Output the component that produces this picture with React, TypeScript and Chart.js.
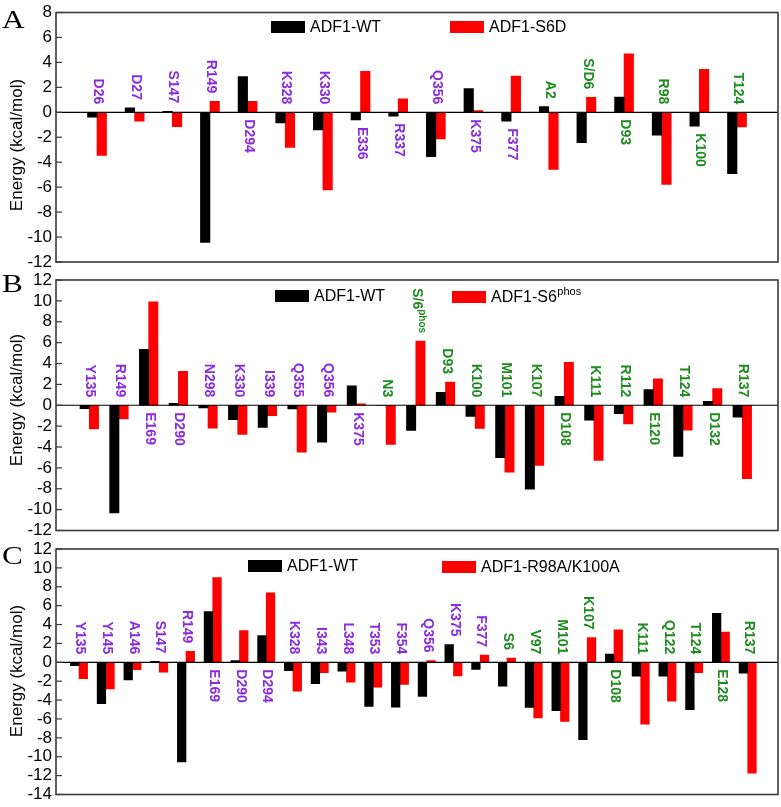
import React, { useEffect, useRef } from "react";
import { Chart, registerables } from "chart.js";
Chart.register(...registerables);

// ---------------- DATA ----------------
// Panel A
const catsA = ["D26", "D27", "S147", "R149", "D294", "K328", "K330", "E336", "R337", "Q356", "K375", "F377", "A2", "S/D6", "D93", "R98", "K100", "T124"];
const wtA = [-0.40, 0.35, 0.08, -10.43, 2.86, -0.86, -1.42, -0.61, -0.32, -3.56, 1.90, -0.72, 0.45, -2.43, 1.23, -1.84, -1.12, -4.92];
const mutA = [-3.45, -0.72, -1.15, 0.88, 0.88, -2.81, -6.23, 3.29, 1.07, -2.14, 0.13, 2.91, -4.57, 1.20, 4.68, -5.78, 3.45, -1.18];
const sideA = ["u", "u", "u", "u", "d", "u", "u", "d", "d", "u", "d", "d", "u", "u", "d", "u", "d", "u"];
const groupA = ["p", "p", "p", "p", "p", "p", "p", "p", "p", "p", "p", "p", "g", "g", "g", "g", "g", "g"];
const legendA = ["ADF1-WT", "ADF1-S6D"];
const yMinA = -12, yMaxA = 8;

// Panel B
const catsB = ["Y135", "R149", "E169", "D290", "N298", "K330", "I339", "Q355", "Q356", "K375", "N3", "S/6^phos", "D93", "K100", "M101", "K107", "D108", "K111", "R112", "E120", "T124", "D132", "R137"];
const wtB = [-0.32, -10.32, 5.35, 0.19, -0.25, -1.37, -2.13, -0.35, -3.54, 1.85, 0.0, -2.42, 1.24, -1.08, -5.03, -8.03, 0.86, -1.43, -0.80, 1.50, -4.90, 0.38, -1.15];
const mutB = [-2.26, -1.31, 9.90, 3.25, -2.20, -2.80, -0.99, -4.49, -0.67, 0.13, -3.76, 6.15, 2.23, -2.23, -6.40, -5.76, 4.11, -5.29, -1.78, 2.52, -2.39, 1.59, -7.04];
const sideB = ["u", "u", "d", "d", "u", "u", "u", "u", "u", "d", "u", "u", "u", "u", "u", "u", "d", "u", "u", "d", "u", "d", "u"];
const groupB = ["p", "p", "p", "p", "p", "p", "p", "p", "p", "p", "g", "g", "g", "g", "g", "g", "g", "g", "g", "g", "g", "g", "g"];
const legendB = ["ADF1-WT", "ADF1-S6^phos"];
const yMinB = -12, yMaxB = 12;

// Panel C
const catsC = ["Y135", "Y145", "A146", "S147", "R149", "E169", "D290", "D294", "K328", "I343", "L348", "T353", "F354", "Q356", "K375", "F377", "S6", "V97", "M101", "K107", "D108", "K111", "Q122", "T124", "E128", "R137"];
const wtC = [-0.35, -4.39, -1.86, 0.10, -10.56, 5.37, 0.18, 2.84, -0.88, -2.25, -0.95, -4.67, -4.74, -3.61, 1.89, -0.74, -2.53, -4.77, -5.12, -8.18, 0.88, -1.47, -1.47, -5.02, 5.19, -1.16];
const mutC = [-1.72, -2.81, -0.77, -1.05, 1.16, 8.98, 3.37, 7.37, -3.05, -1.09, -2.11, -2.63, -2.35, 0.18, -1.44, 0.77, 0.46, -5.89, -6.25, 2.63, 3.44, -6.56, -4.11, -1.09, 3.19, -11.75];
const sideC = ["u", "u", "u", "u", "u", "d", "d", "d", "u", "u", "u", "u", "u", "u", "u", "u", "u", "u", "u", "u", "d", "u", "u", "u", "d", "u"];
const groupC = ["p", "p", "p", "p", "p", "p", "p", "p", "p", "p", "p", "p", "p", "p", "p", "p", "g", "g", "g", "g", "g", "g", "g", "g", "g", "g"];
const legendC = ["ADF1-WT", "ADF1-R98A/K100A"];
const yMinC = -14, yMaxC = 12;

const yStep = 2;
const yTitle = "Energy (kcal/mol)";

// ---------------- STYLE ----------------
const PURPLE = "#8a2be2";
const GREEN = "#1f8c1f";
const FONT = "'Liberation Sans', Arial, Helvetica, sans-serif";

type Cfg = {
  letter: string;
  cats: string[];
  wt: number[];
  mut: number[];
  side: string[];
  group: string[];
  legend: string[];
  yMin: number;
  yMax: number;
  xMin: number;
  xMax: number;
  barW: number;
  top: number;
  bottom: number;
  letterY: number;
  titleY: number;
  leg: { x: number; y: number }[];
};

const panels: Cfg[] = [
  {
    letter: "A", cats: catsA, wt: wtA, mut: mutA, side: sideA, group: groupA, legend: legendA,
    yMin: yMinA, yMax: yMaxA, xMin: -0.089, xMax: 19.089, barW: 9.5, top: 12, bottom: 262,
    letterY: 28, titleY: 145, leg: [{ x: 271, y: 21 }, { x: 450, y: 21 }],
  },
  {
    letter: "B", cats: catsB, wt: wtB, mut: mutB, side: sideB, group: groupB, legend: legendB,
    yMin: yMinB, yMax: yMaxB, xMin: -0.122, xMax: 24.203, barW: 9.3, top: 280, bottom: 530.5,
    letterY: 292, titleY: 400, leg: [{ x: 275, y: 290 }, { x: 452, y: 291 }],
  },
  {
    letter: "C", cats: catsC, wt: wtC, mut: mutC, side: sideC, group: groupC, legend: legendC,
    yMin: yMinC, yMax: yMaxC, xMin: 0.14, xMax: 27.133, barW: 8.6, top: 549, bottom: 798,
    letterY: 564, titleY: 671, leg: [{ x: 248, y: 560 }, { x: 442, y: 561 }],
  },
];

function splitRich(t: string) {
  const i = t.indexOf("^");
  return i < 0 ? [t, ""] : [t.slice(0, i), t.slice(i + 1)];
}

function makePlugin(cfg: Cfg) {
  return {
    id: "decor" + cfg.letter,
    afterDatasetsDraw(chart: any) {
      const { ctx, chartArea: a, scales } = chart;
      const xs = scales.x, ys = scales.y;
      ctx.save();
      // zero line
      const y0 = ys.getPixelForValue(0);
      ctx.strokeStyle = "#000";
      ctx.lineWidth = 1.2;
      ctx.beginPath();
      ctx.moveTo(a.left, y0);
      ctx.lineTo(a.right, y0);
      ctx.stroke();

      // residue labels
      const mainFont = "bold 14px " + FONT;
      const supFont = "bold 10px " + FONT;
      cfg.cats.forEach((lab, i) => {
        const px = xs.getPixelForValue(i + 1);
        const hi = Math.max(0, cfg.wt[i], cfg.mut[i]);
        const lo = Math.min(0, cfg.wt[i], cfg.mut[i]);
        const [m, s] = splitRich(lab);
        ctx.font = mainFont;
        const w1 = ctx.measureText(m).width;
        ctx.font = supFont;
        const w2 = s ? ctx.measureText(s).width : 0;
        const total = w1 + w2;
        let start: number;
        if (cfg.side[i] === "u") {
          start = ys.getPixelForValue(hi) - 8 - total;
        } else {
          start = ys.getPixelForValue(lo) + 7;
        }
        ctx.save();
        ctx.translate(px + 1, start);
        ctx.rotate(Math.PI / 2);
        ctx.fillStyle = cfg.group[i] === "p" ? PURPLE : GREEN;
        ctx.textAlign = "left";
        ctx.textBaseline = "middle";
        ctx.font = mainFont;
        ctx.fillText(m, 0, 0);
        if (s) {
          ctx.font = supFont;
          ctx.fillText(s, w1, -5);
        }
        ctx.restore();
      });

      // frame
      ctx.strokeStyle = "#3a3a3a";
      ctx.lineWidth = 1.6;
      ctx.strokeRect(a.left, a.top, a.right - a.left, a.bottom - a.top);
      // inward ticks
      ctx.lineWidth = 1.2;
      ys.ticks.forEach((_t: any, i: number) => {
        const py = ys.getPixelForTick(i);
        ctx.beginPath();
        ctx.moveTo(a.left, py);
        ctx.lineTo(a.left + 6, py);
        ctx.stroke();
      });

      // legend
      const colors = ["#000000", "#ff0000"];
      cfg.legend.forEach((name, k) => {
        const p = cfg.leg[k];
        ctx.fillStyle = colors[k];
        ctx.fillRect(p.x, p.y, 34, 12);
        const [m, s] = splitRich(name);
        ctx.fillStyle = "#000";
        ctx.textAlign = "left";
        ctx.textBaseline = "middle";
        ctx.font = "16px " + FONT;
        ctx.fillText(m, p.x + 39, p.y + 7);
        if (s) {
          const w = ctx.measureText(m).width;
          ctx.font = "11px " + FONT;
          ctx.fillText(s, p.x + 39 + w + 0.5, p.y + 1);
        }
      });

      // panel letter
      ctx.save();
      ctx.fillStyle = "#000";
      ctx.font = "26px 'Liberation Serif', 'Times New Roman', serif";
      ctx.textAlign = "left";
      ctx.textBaseline = "alphabetic";
      ctx.translate(2, cfg.letterY);
      ctx.scale(1.2, 1);
      ctx.fillText(cfg.letter, 0, 0);
      ctx.restore();

      // y title
      ctx.save();
      ctx.fillStyle = "#000";
      ctx.font = "17px " + FONT;
      ctx.textAlign = "center";
      ctx.textBaseline = "middle";
      ctx.translate(17, cfg.titleY);
      ctx.rotate(-Math.PI / 2);
      ctx.fillText(yTitle, 0, 0);
      ctx.restore();

      ctx.restore();
    },
  };
}

function Panel({ cfg }: { cfg: Cfg }) {
  const ref = useRef<HTMLCanvasElement>(null);
  useEffect(() => {
    const canvas = ref.current!;
    const names = cfg.legend.map((n) => n.replace("^", ""));
    const chart = new Chart(canvas, {
      type: "bar",
      data: {
        datasets: [
          {
            label: names[0],
            data: cfg.wt.map((v, i) => ({ x: i + 1, y: v })),
            backgroundColor: "#000000",
            borderWidth: 0,
            barThickness: cfg.barW,
          },
          {
            label: names[1],
            data: cfg.mut.map((v, i) => ({ x: i + 1, y: v })),
            backgroundColor: "#ff0000",
            borderWidth: 0,
            barThickness: cfg.barW,
          },
        ],
      } as any,
      options: {
        responsive: false,
        animation: false,
        devicePixelRatio: 1,
        layout: { padding: { top: cfg.top, bottom: 807 - cfg.bottom, left: 0, right: 3 } },
        plugins: { legend: { display: false }, tooltip: { enabled: false }, title: { display: false } },
        scales: {
          x: {
            type: "linear",
            display: false,
            offset: false,
            min: cfg.xMin,
            max: cfg.xMax,
            ticks: { stepSize: 1, includeBounds: false, maxTicksLimit: 100 },
            grid: { display: false, offset: false },
          },
          y: {
            type: "linear",
            min: cfg.yMin,
            max: cfg.yMax,
            grid: { display: false, drawTicks: false },
            border: { display: false },
            ticks: {
              stepSize: yStep,
              autoSkip: false,
              padding: 4,
              color: "#000",
              font: { family: FONT, size: 17, lineHeight: 1 },
            },
            afterFit: (scale: any) => {
              scale.width = 56;
            },
          },
        },
      } as any,
      plugins: [makePlugin(cfg)],
    });
    return () => chart.destroy();
  }, []);
  return <canvas ref={ref} width={781} height={807} style={{ position: "absolute", left: 0, top: 0 }} />;
}

export default function App() {
  return (
    <div style={{ position: "absolute", left: 0, top: 0, width: 781, height: 807, background: "#fff", overflow: "hidden" }}>
      {panels.map((p) => (
        <Panel key={p.letter} cfg={p} />
      ))}
    </div>
  );
}
